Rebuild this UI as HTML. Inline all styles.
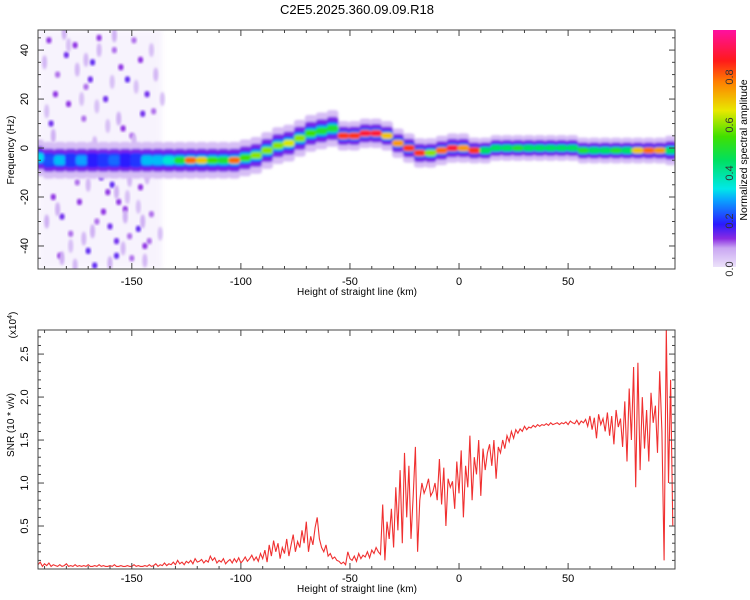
<!DOCTYPE html>
<html><head><meta charset="utf-8">
<style>
html,body{margin:0;padding:0;background:#fff;}
svg{display:block;font-family:"Liberation Sans",sans-serif;}
</style></head>
<body>
<svg id="chart" width="750" height="600" viewBox="0 0 750 600" xmlns="http://www.w3.org/2000/svg">
<defs>
<filter id="blur" x="-20%" y="-20%" width="140%" height="140%"><feGaussianBlur stdDeviation="1.4"/></filter>
<filter id="blur2" x="-20%" y="-20%" width="140%" height="140%"><feGaussianBlur stdDeviation="2.5"/></filter>
<linearGradient id="cbar" x1="0" y1="1" x2="0" y2="0">
<stop offset="0" stop-color="#ece2fa"/><stop offset="0.08" stop-color="#c9a6f2"/><stop offset="0.12" stop-color="#8a2be2"/>
<stop offset="0.18" stop-color="#2a1aff"/><stop offset="0.28" stop-color="#0aa0ff"/><stop offset="0.33" stop-color="#00e8e8"/>
<stop offset="0.45" stop-color="#00e060"/><stop offset="0.55" stop-color="#40e000"/><stop offset="0.66" stop-color="#e8e800"/>
<stop offset="0.78" stop-color="#ff8000"/><stop offset="0.87" stop-color="#ff1a1a"/><stop offset="1" stop-color="#ff10a0"/>
</linearGradient>
<clipPath id="clipTop"><rect x="38" y="30" width="637" height="239"/></clipPath>
<clipPath id="clipBot"><rect x="38" y="330" width="637" height="239"/></clipPath>
</defs>
<text x="357" y="14" font-size="13" text-anchor="middle">C2E5.2025.360.09.09.R18</text>
<g id="topPanel"></g>
<g id="botPanel"></g>
<g id="cbPanel"></g>
</svg>
<script>
// ---------- data ----------
const xTicks = [-150, -100, -50, 0, 50];
const freqTicks = [40, 20, 0, -20, -40];
const snrTicks = [0.5, 1.0, 1.5, 2.0, 2.5];
const cbTicks = [0.0, 0.2, 0.4, 0.6, 0.8];

const ridgeKm = [-193,-188,-183,-178,-173,-168,-163,-158,-153,-148,-143,-138,-133,-128,-123,-118,-113,-108,-103,-98,-93,-88,-83,-78,-73,-68,-63,-58,-53,-48,-43,-38,-33,-28,-23,-18,-13,-8,-3,2,7,12,17,22,27,32,37,42,47,52,57,62,67,72,77,82,87,92,97];
const ridgeHz = [-4,-5,-5,-5,-5,-5,-5,-5,-5,-5,-5,-5,-5,-5,-5,-5,-5,-5,-5,-4,-3,-1,1,2,4,6,7,8,5,5,6,6,5,2,0,-2,-2,-1,0,0,-1,-1,0,0,0,0,0,0,0,0,-1,-1,-1,-1,-1,-1,-1,-1,-1];
const ridgeAmp = [.32,.22,.3,.2,.28,.18,.2,.24,.18,.2,.3,.3,.35,.5,.8,.7,.55,.5,.8,.55,.6,.6,.6,.65,.6,.55,.5,.5,.85,.85,.9,.9,.7,.75,.85,.85,.6,.8,.9,.75,.85,.45,.45,.45,.5,.45,.45,.45,.45,.45,.5,.45,.45,.5,.45,.7,.8,.75,.45];
const ridgeHalf = [5,5,5,5,5,5,5,5,5,5,5,5,5,5,5,5,5,5,5,5,5,5,5,5,5,5,5,5,4,4,4,4,4,4,4,4,4,4,4,4,3.5,3.5,3.5,3.5,3.5,3.5,3.5,3.5,3.5,3.5,3.5,3.5,3.5,3.5,3.5,3.5,3.5,3.5,4];

const noiseKm = [-188,-184,-180,-176,-171,-168,-165,-162,-158,-155,-152,-149,-146,-143,-140,-186,-182,-178,-174,-170,-166,-161,-157,-153,-150,-147,-144,-141,-187,-179,-172,-164,-159,-154,-148,-145,-183,-175,-167,-160,-156,-151,-185,-177,-169,-163,-157,-150,-146,-142,
 -190,-181,-173,-165,-156,-148,-139,-189,-178,-170,-160,-152,-143,-137,-186,-175,-166,-158,-149,-141,-184,-172,-163,-154,-145,-189,-176,-168,-159,-151,-136,-182,-171,-161,-153,-144,-179,-167,-157,-147];
const noiseHz = [44,30,38,42,25,35,45,20,40,33,28,44,36,22,15,-20,-28,-35,-22,-42,-30,-18,-38,-25,-45,-33,-40,-27,10,18,12,-12,-15,8,-10,14,-44,-14,-48,-32,-22,-36,22,-8,28,-26,-44,5,-16,-38,
 35,47,20,40,12,25,30,-30,-40,-15,-47,-20,-12,-35,5,32,17,46,3,40,-25,-37,-7,-41,-30,15,-48,-34,27,-13,20,-45,36,9,-28,-46,42,2,-18,-24];
const noiseAmp = [.12,.1,.14,.12,.1,.15,.12,.14,.1,.12,.15,.1,.12,.14,.1,.12,.14,.1,.12,.15,.1,.12,.14,.12,.1,.15,.12,.1,.14,.12,.1,.14,.15,.12,.1,.14,.12,.1,.15,.14,.12,.1,.12,.1,.14,.12,.15,.1,.12,.1,
 .06,.07,.05,.06,.07,.05,.06,.07,.05,.06,.07,.05,.06,.05,.07,.06,.05,.07,.06,.05,.07,.06,.05,.06,.07,.05,.06,.07,.05,.06,.05,.07,.06,.05,.07,.06,.05,.06,.07,.05];

const snrStartKm = -193;
const snrVals = [
.05,.08,.03,.06,.04,.07,.03,.05,.04,.03,
.05,.03,.04,.06,.03,.04,.03,.05,.03,.04,
.03,.04,.03,.05,.03,.03,.04,.03,.05,.03,
.04,.03,.03,.04,.03,.05,.03,.03,.04,.03,
.03,.04,.03,.03,.05,.03,.04,.03,.03,.04,
.03,.05,.03,.04,.06,.03,.05,.04,.07,.04,
.06,.05,.08,.05,.10,.06,.08,.05,.09,.07,
.10,.06,.12,.08,.09,.11,.07,.10,.08,.15,
.10,.13,.07,.10,.08,.12,.06,.09,.11,.07,
.12,.08,.13,.07,.10,.14,.09,.12,.16,.10,
.14,.09,.18,.12,.22,.08,.28,.15,.33,.20,
.30,.12,.25,.18,.35,.15,.28,.40,.20,.32,
.25,.45,.30,.55,.20,.38,.28,.48,.60,.35,
.25,.20,.28,.15,.18,.12,.14,.10,.09,.06,
.08,.05,.20,.12,.10,.15,.09,.18,.12,.16,
.14,.20,.13,.22,.18,.25,.20,.17,.75,.10,
.55,.35,.70,.25,.95,.45,1.15,.30,1.35,.60,
1.20,.35,.85,1.42,.20,.80,1.00,.88,.95,1.05,
.85,.90,1.0,.80,1.28,.75,1.18,.50,1.05,.95,
1.02,.70,1.25,.88,1.38,.60,1.20,.95,1.55,.80,
1.30,1.10,1.50,.85,1.40,1.15,1.35,1.45,1.20,1.50,
1.05,1.42,1.35,1.50,1.40,1.55,1.48,1.60,1.52,1.62,
1.58,1.63,1.60,1.66,1.62,1.65,1.64,1.67,1.65,1.68,
1.66,1.68,1.67,1.69,1.67,1.70,1.68,1.69,1.70,1.68,
1.70,1.69,1.71,1.68,1.72,1.70,1.69,1.73,1.68,1.72,
1.70,1.74,1.66,1.78,1.62,1.76,1.52,1.80,1.68,1.75,
1.60,1.82,1.55,1.78,1.45,1.85,1.65,1.75,1.42,1.95,
1.25,2.10,1.50,2.35,0.95,2.40,1.15,2.00,1.40,1.85,
1.25,2.05,1.70,1.90,1.35,2.30,1.60,0.10,2.80,1.00,
2.20,0.50];

// ---------- helpers ----------
const NS = "http://www.w3.org/2000/svg";
function mk(tag, attrs, parent) {
  const e = document.createElementNS(NS, tag);
  for (const k in attrs) e.setAttribute(k, attrs[k]);
  parent.appendChild(e);
  return e;
}
const X0 = 38, X1 = 675, KM0 = -193, KM1 = 99;
const xs = km => X0 + (km - KM0) / (KM1 - KM0) * (X1 - X0);
const TY0 = 30, TY1 = 269, HZ0 = -49.4, HZ1 = 48.2;
const yf = hz => TY1 - (hz - HZ0) / (HZ1 - HZ0) * (TY1 - TY0);
const BY0 = 330, BY1 = 569, S0 = 0, S1 = 2.78;
const ys = v => BY1 - (v - S0) / (S1 - S0) * (BY1 - BY0);

const cstops = [[0,[236,226,250]],[0.08,[201,166,242]],[0.12,[138,43,226]],[0.18,[42,26,255]],[0.28,[10,160,255]],[0.33,[0,232,232]],[0.45,[0,224,96]],[0.55,[64,224,0]],[0.66,[232,232,0]],[0.78,[255,128,0]],[0.87,[255,26,26]],[1,[255,16,160]]];
function cmap(v) {
  for (let i = 1; i < cstops.length; i++) {
    if (v <= cstops[i][0]) {
      const a = cstops[i-1], b = cstops[i], t = (v - a[0]) / (b[0] - a[0]);
      const c = a[1].map((q, j) => Math.round(q + (b[1][j] - q) * t));
      return `rgb(${c[0]},${c[1]},${c[2]})`;
    }
  }
  return "rgb(255,16,160)";
}

// ---------- top panel ----------
const topG = document.getElementById("topPanel");
const heat = mk("g", {"clip-path": "url(#clipTop)"}, topG);


const haze = mk("rect", {x: xs(-193), y: TY0, width: xs(-136) - xs(-193), height: TY1 - TY0, fill: "#efe6fb", opacity: 0.45, filter: "url(#blur2)"}, heat);


for (let i = 0; i < noiseKm.length; i++) {
  const lav = noiseAmp[i] < 0.08;
  const d = mk("ellipse", {cx: xs(noiseKm[i]), cy: yf(noiseHz[i]), rx: lav ? 2.5 : 2.6, ry: lav ? 7 : 3.2, fill: cmap(noiseAmp[i]), filter: "url(#blur)"}, heat);
  
  
}
const bandG = mk("g", {filter: "url(#blur)"}, heat);


function band(i, h, col, name) {
  const r = mk("rect", {x: xs(ridgeKm[i] - 2.7), y: yf(ridgeHz[i] + h), width: xs(ridgeKm[i] + 2.7) - xs(ridgeKm[i] - 2.7), height: yf(ridgeHz[i] - h) - yf(ridgeHz[i] + h), rx: 3, fill: col}, bandG);
  
  
}
for (let i = 0; i < ridgeKm.length; i++) band(i, ridgeHalf[i] * 1.5, cmap(0.05), 'ridge-fringe');
for (let i = 0; i < ridgeKm.length; i++) band(i, ridgeHalf[i] * 0.95, cmap(0.13), 'ridge-outer');
for (let i = 0; i < ridgeKm.length; i++) band(i, ridgeHalf[i] * 0.6, cmap(Math.min(0.2, ridgeAmp[i])), 'ridge-mid');
for (let i = 0; i < ridgeKm.length; i++) band(i, ridgeHalf[i] * 0.4, cmap(Math.min(0.31, ridgeAmp[i])), 'ridge-inner');
for (let i = 0; i < ridgeKm.length; i++) if (ridgeAmp[i] > 0.3) band(i, ridgeHalf[i] * 0.3, cmap(Math.min(0.45, ridgeAmp[i])), 'ridge-core');
for (let i = 0; i < ridgeKm.length; i++) if (ridgeAmp[i] > 0.34) band(i, 1.3, cmap(ridgeAmp[i]), 'ridge-peak');
const tframe = mk("rect", {x: X0, y: TY0, width: X1 - X0, height: TY1 - TY0, fill: "none", stroke: "#444", "stroke-width": 1}, topG);



function xAxis(g, yb, yt, lblY) {
  for (let k = -190; k <= 95; k += 10) {
    const major = k % 50 === 0;
    const L = major ? 6 : 3;
    mk("line", {x1: xs(k), x2: xs(k), y1: yb, y2: yb - L, stroke: "#444"}, g);
    mk("line", {x1: xs(k), x2: xs(k), y1: yt, y2: yt + L, stroke: "#444"}, g);
  }
  xTicks.forEach(k => {
    const t = mk("text", {x: xs(k), y: lblY, "font-size": 11, "text-anchor": "middle"}, g);
    t.textContent = String(k);
    
    
  });
  const tt = mk("text", {x: 357, y: lblY + 10, "font-size": 10, "text-anchor": "middle", "textLength": 120}, g);
  tt.textContent = "Height of straight line (km)";
  
  
}
xAxis(topG, TY1, TY0, 285);
for (let hz = -45; hz <= 45; hz += 5) {
  const L = hz % 20 === 0 ? 6 : 3;
  mk("line", {x1: X0, x2: X0 + L, y1: yf(hz), y2: yf(hz), stroke: "#444"}, topG);
  mk("line", {x1: X1, x2: X1 - L, y1: yf(hz), y2: yf(hz), stroke: "#444"}, topG);
}
freqTicks.forEach(v => {
  const t = mk("text", {transform: `translate(28,${yf(v)}) rotate(-90)`, "font-size": 11, "text-anchor": "middle"}, topG);
  t.textContent = String(v);
  
  
});
const yt1 = mk("text", {transform: `translate(14,150) rotate(-90)`, "font-size": 10, "text-anchor": "middle"}, topG);
yt1.textContent = "Frequency (Hz)";



// ---------- colorbar ----------
const cbG = document.getElementById("cbPanel");
const cbr = mk("rect", {x: 713, y: 30, width: 23, height: 237, fill: "url(#cbar)"}, cbG);


const cbY = v => 269 - v / 0.2 * 48;
cbTicks.forEach(v => {
  const t = mk("text", {transform: `translate(733,${cbY(v)}) rotate(-90)`, "font-size": 11, "text-anchor": "middle", fill: "#333"}, cbG);
  t.textContent = v.toFixed(1);
  
  
});
const cbt = mk("text", {transform: `translate(747,150) rotate(-90)`, "font-size": 10.5, "text-anchor": "middle"}, cbG);
cbt.textContent = "Normalized spectral amplitude";



// ---------- bottom panel ----------
const botG = document.getElementById("botPanel");
let pts = [];
for (let i = 0; i < snrVals.length; i++) pts.push(xs(snrStartKm + i).toFixed(1) + "," + ys(snrVals[i]).toFixed(1));
const line = mk("polyline", {points: pts.join(" "), fill: "none", stroke: "#f03030", "stroke-width": 1.1, "clip-path": "url(#clipBot)"}, botG);


const bframe = mk("rect", {x: X0, y: BY0, width: X1 - X0, height: BY1 - BY0, fill: "none", stroke: "#444", "stroke-width": 1}, botG);


xAxis(botG, BY1, BY0, 582);
for (let r = 1; r < 28; r++) {
  const v = r / 10;
  const L = r % 5 === 0 ? 6 : 3;
  mk("line", {x1: X0, x2: X0 + L, y1: ys(v), y2: ys(v), stroke: "#444"}, botG);
  mk("line", {x1: X1, x2: X1 - L, y1: ys(v), y2: ys(v), stroke: "#444"}, botG);
}
snrTicks.forEach(v => {
  const t = mk("text", {transform: `translate(28,${ys(v)}) rotate(-90)`, "font-size": 11, "text-anchor": "middle"}, botG);
  t.textContent = v.toFixed(1);
  
  
});
const yt2 = mk("text", {transform: `translate(14,425) rotate(-90)`, "font-size": 10, "text-anchor": "middle"}, botG);
yt2.textContent = "SNR (10 * v/v)";


const sc = mk("text", {transform: `translate(16,325) rotate(-90)`, "font-size": 10, "text-anchor": "middle"}, botG);
sc.innerHTML = '(x10<tspan dy="-4" font-size="7">4</tspan><tspan dy="4">)</tspan>';


</script>
</body></html>
